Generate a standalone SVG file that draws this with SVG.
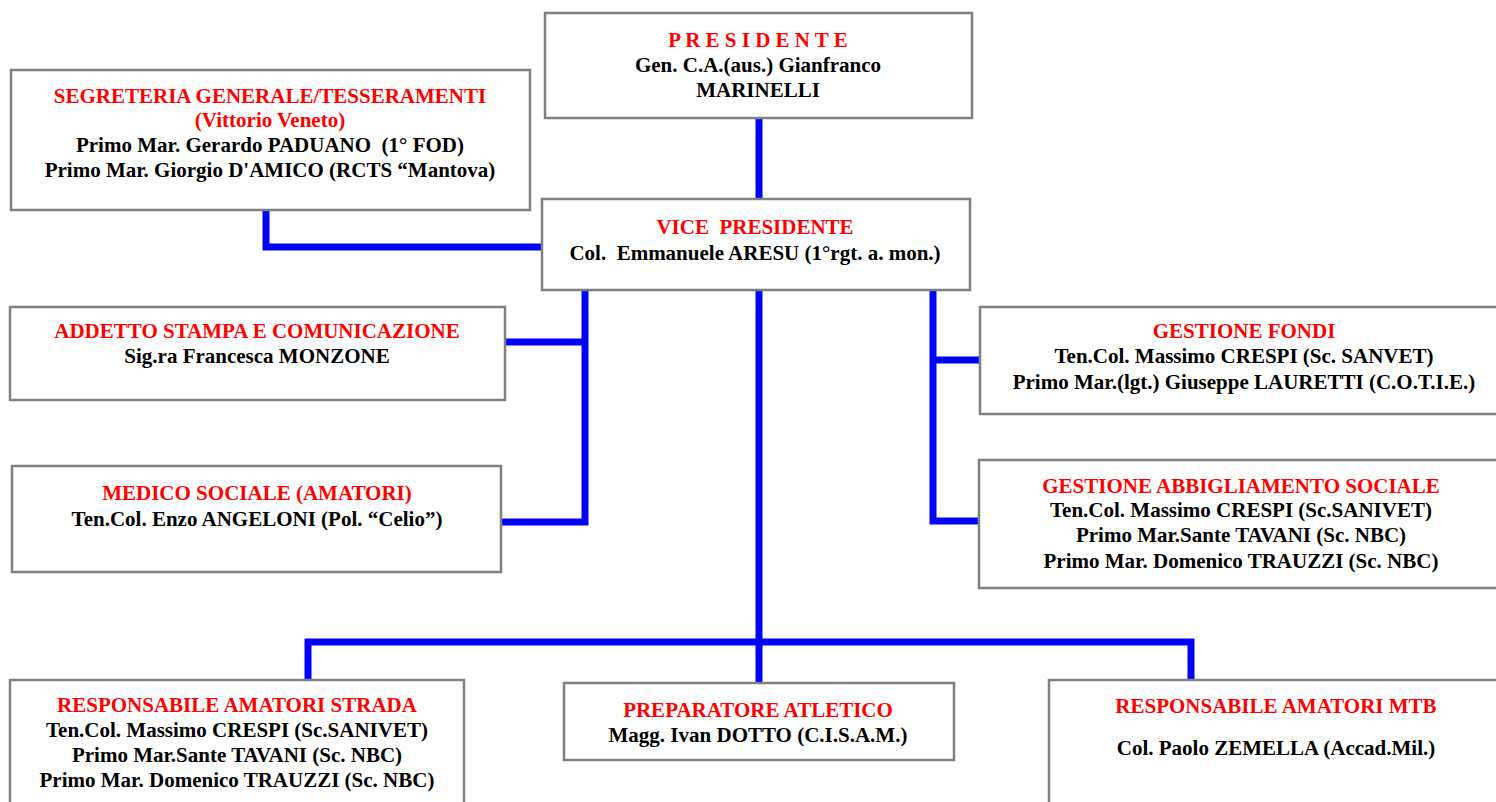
<svg xmlns="http://www.w3.org/2000/svg" width="1496" height="802" viewBox="0 0 1496 802">
<style>
.box{fill:#fff;stroke:#808080;stroke-width:2.5}
.t{font-family:"Liberation Serif","Times New Roman",serif;font-weight:bold;font-size:21px;text-anchor:middle;white-space:pre}
.r{fill:#ff0000}
.k{fill:#000}
.c{fill:none;stroke:#0000ff;stroke-width:7;stroke-linecap:square}
</style>
<rect width="1496" height="802" fill="#fff"/>
<g id="connectors">
<path class="c" d="M759 120 V196"/>
<path class="c" d="M266 212 V247 H539"/>
<path class="c" d="M585 293 V522 M509 342 H585 M503 522 H585"/>
<path class="c" d="M933 293 V521 M933 360 H978 M933 521 H976"/>
<path class="c" d="M759 293 V680 M308 678 V642 H1191 V678"/>
</g>
<g id="presidente">
<rect class="box" x="545" y="13" width="427" height="105"/>
<text class="t r" x="758" y="47" xml:space="preserve">P R E S I D E N T E</text>
<text class="t k" x="758" y="72">Gen. C.A.(aus.) Gianfranco</text>
<text class="t k" x="758" y="97">MARINELLI</text>
</g>
<g id="segreteria">
<rect class="box" x="11" y="70" width="519" height="140"/>
<text class="t r" x="270" y="103">SEGRETERIA GENERALE/TESSERAMENTI</text>
<text class="t r" x="270" y="127">(Vittorio Veneto)</text>
<text class="t k" x="270" y="152" xml:space="preserve">Primo Mar. Gerardo PADUANO  (1° FOD)</text>
<text class="t k" x="270" y="177">Primo Mar. Giorgio D'AMICO (RCTS “Mantova)</text>
</g>
<g id="vicepresidente">
<rect class="box" x="542" y="199" width="428" height="91"/>
<text class="t r" x="755" y="234" xml:space="preserve">VICE  PRESIDENTE</text>
<text class="t k" x="755" y="260" xml:space="preserve">Col.  Emmanuele ARESU (1°rgt. a. mon.)</text>
</g>
<g id="addetto">
<rect class="box" x="10" y="307" width="495" height="93"/>
<text class="t r" x="257" y="338">ADDETTO STAMPA E COMUNICAZIONE</text>
<text class="t k" x="257" y="363">Sig.ra Francesca MONZONE</text>
</g>
<g id="medico">
<rect class="box" x="12" y="466" width="489" height="106"/>
<text class="t r" x="257" y="500">MEDICO SOCIALE (AMATORI)</text>
<text class="t k" x="257" y="526">Ten.Col. Enzo ANGELONI (Pol. “Celio”)</text>
</g>
<g id="fondi">
<rect class="box" x="980" y="307" width="530" height="107"/>
<text class="t r" x="1244" y="338">GESTIONE FONDI</text>
<text class="t k" x="1244" y="363">Ten.Col. Massimo CRESPI (Sc. SANVET)</text>
<text class="t k" x="1244" y="389">Primo Mar.(lgt.) Giuseppe LAURETTI (C.O.T.I.E.)</text>
</g>
<g id="abbigliamento">
<rect class="box" x="979" y="460" width="530" height="128"/>
<text class="t r" x="1241" y="493">GESTIONE ABBIGLIAMENTO SOCIALE</text>
<text class="t k" x="1241" y="517">Ten.Col. Massimo CRESPI (Sc.SANIVET)</text>
<text class="t k" x="1241" y="542">Primo Mar.Sante TAVANI (Sc. NBC)</text>
<text class="t k" x="1241" y="568">Primo Mar. Domenico TRAUZZI (Sc. NBC)</text>
</g>
<g id="strada">
<rect class="box" x="10" y="680" width="454" height="130"/>
<text class="t r" x="237" y="712">RESPONSABILE AMATORI STRADA</text>
<text class="t k" x="237" y="737">Ten.Col. Massimo CRESPI (Sc.SANIVET)</text>
<text class="t k" x="237" y="762">Primo Mar.Sante TAVANI (Sc. NBC)</text>
<text class="t k" x="237" y="787">Primo Mar. Domenico TRAUZZI (Sc. NBC)</text>
</g>
<g id="preparatore">
<rect class="box" x="564" y="683" width="390" height="77"/>
<text class="t r" x="758" y="717">PREPARATORE ATLETICO</text>
<text class="t k" x="758" y="742">Magg. Ivan DOTTO (C.I.S.A.M.)</text>
</g>
<g id="mtb">
<rect class="box" x="1049" y="680" width="460" height="130"/>
<text class="t r" x="1276" y="713">RESPONSABILE AMATORI MTB</text>
<text class="t k" x="1276" y="755">Col. Paolo ZEMELLA (Accad.Mil.)</text>
</g>
</svg>
